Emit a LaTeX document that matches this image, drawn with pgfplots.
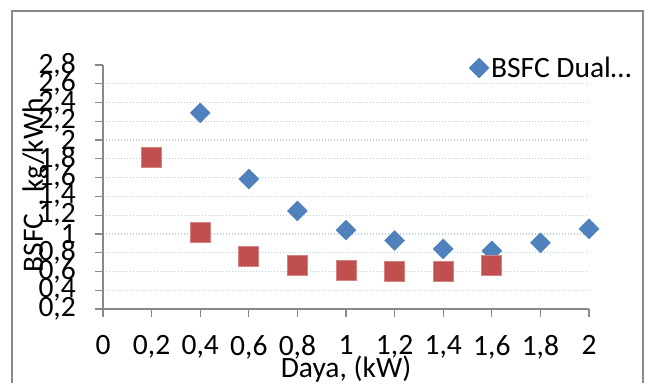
\documentclass[border=0pt]{standalone}
\usepackage{fontspec}
\setmainfont{Carlito}
\usepackage{pgfplots}
\pgfplotsset{compat=1.18}
\definecolor{sblue}{HTML}{4F81BD}
\definecolor{sred}{HTML}{C0504D}
\definecolor{gridc}{HTML}{B9CDE5}
\definecolor{axc}{HTML}{898989}
\newcommand{\bigf}{\fontsize{29.5bp}{32bp}\selectfont}
\begin{document}
\begin{tikzpicture}[x=1bp,y=1bp]
\path[use as bounding box] (0,0) rectangle (646,383);
\draw[axc, line width=1.5bp] (12,0) -- (12,372) -- (643,372) -- (643,0);
\begin{axis}[
 at={(103bp,74bp)}, anchor=south west,
 scale only axis, width=486bp, height=244bp,
 xmin=0, xmax=2, ymin=0.2, ymax=2.8,
 xtick={0,0.2,0.4,0.6,0.8,1,1.2,1.4,1.6,1.8,2},
 xticklabels={0,{0,2},{0,4},{0,6},{0,8},1,{1,2},{1,4},{1,6},{1,8},2},
 ytick={0.2,0.4,0.6,0.8,1,1.2,1.4,1.6,1.8,2,2.2,2.4,2.6},
 yticklabels={{0,2},{0,4},{0,6},{0,8},1,{1,2},{1,4},{1,6},{1,8},2,{2,2},{2,4},{2,6}},
 extra y ticks={2.8}, extra y tick labels={2{,}8},
 extra y tick style={grid=none},
 axis x line*=bottom, axis y line*=left,
 axis line style={axc, line width=1.2bp, -},
 tick style={axc, line width=1.2bp},
 major tick length=8bp, tick align=outside,
 ymajorgrids,
 grid style={gridc, line width=1.2bp, dash pattern=on 1.2bp off 1.8bp},
 ticklabel style={font=\bigf},
 xticklabel style={anchor=north, inner sep=0pt, yshift=-18bp},
 yticklabel style={anchor=east, inner sep=0pt, xshift=-19bp},
 xlabel={Daya, (kW)},
 ylabel={BSFC , kg/kWh},
 label style={font=\bigf, inner sep=0pt},
 xlabel style={at={(axis description cs:0.5,-0.279)}, anchor=base},
 ylabel style={at={(axis description cs:-0.1235,0.508)}, anchor=base},
 legend style={at={(axis description cs:0.753,0.988)}, anchor=west, draw=none, fill=none, inner sep=0pt, font=\bigf},
 legend image code/.code={\draw[#1] plot coordinates {(0bp,0bp)};},
 clip=false,
]
\addplot[only marks, mark=square*, mark size=7.07bp, mark options={rotate=45, fill=sblue, draw=sblue}]
 coordinates {(0.4,2.29)(0.6,1.585)(0.8,1.245)(1.0,1.04)(1.2,0.93)(1.4,0.84)(1.6,0.82)(1.8,0.905)(2.0,1.055)};
\addlegendentry{BSFC Dual…}
\addplot[only marks, mark=square*, mark size=10bp, mark options={fill=sred, draw=sred!70!white, line width=0.8bp}, forget plot]
 coordinates {(0.2,1.82)(0.4,1.02)(0.6,0.765)(0.8,0.66)(1.0,0.61)(1.2,0.60)(1.4,0.605)(1.6,0.665)};
\end{axis}
\end{tikzpicture}
\end{document}
